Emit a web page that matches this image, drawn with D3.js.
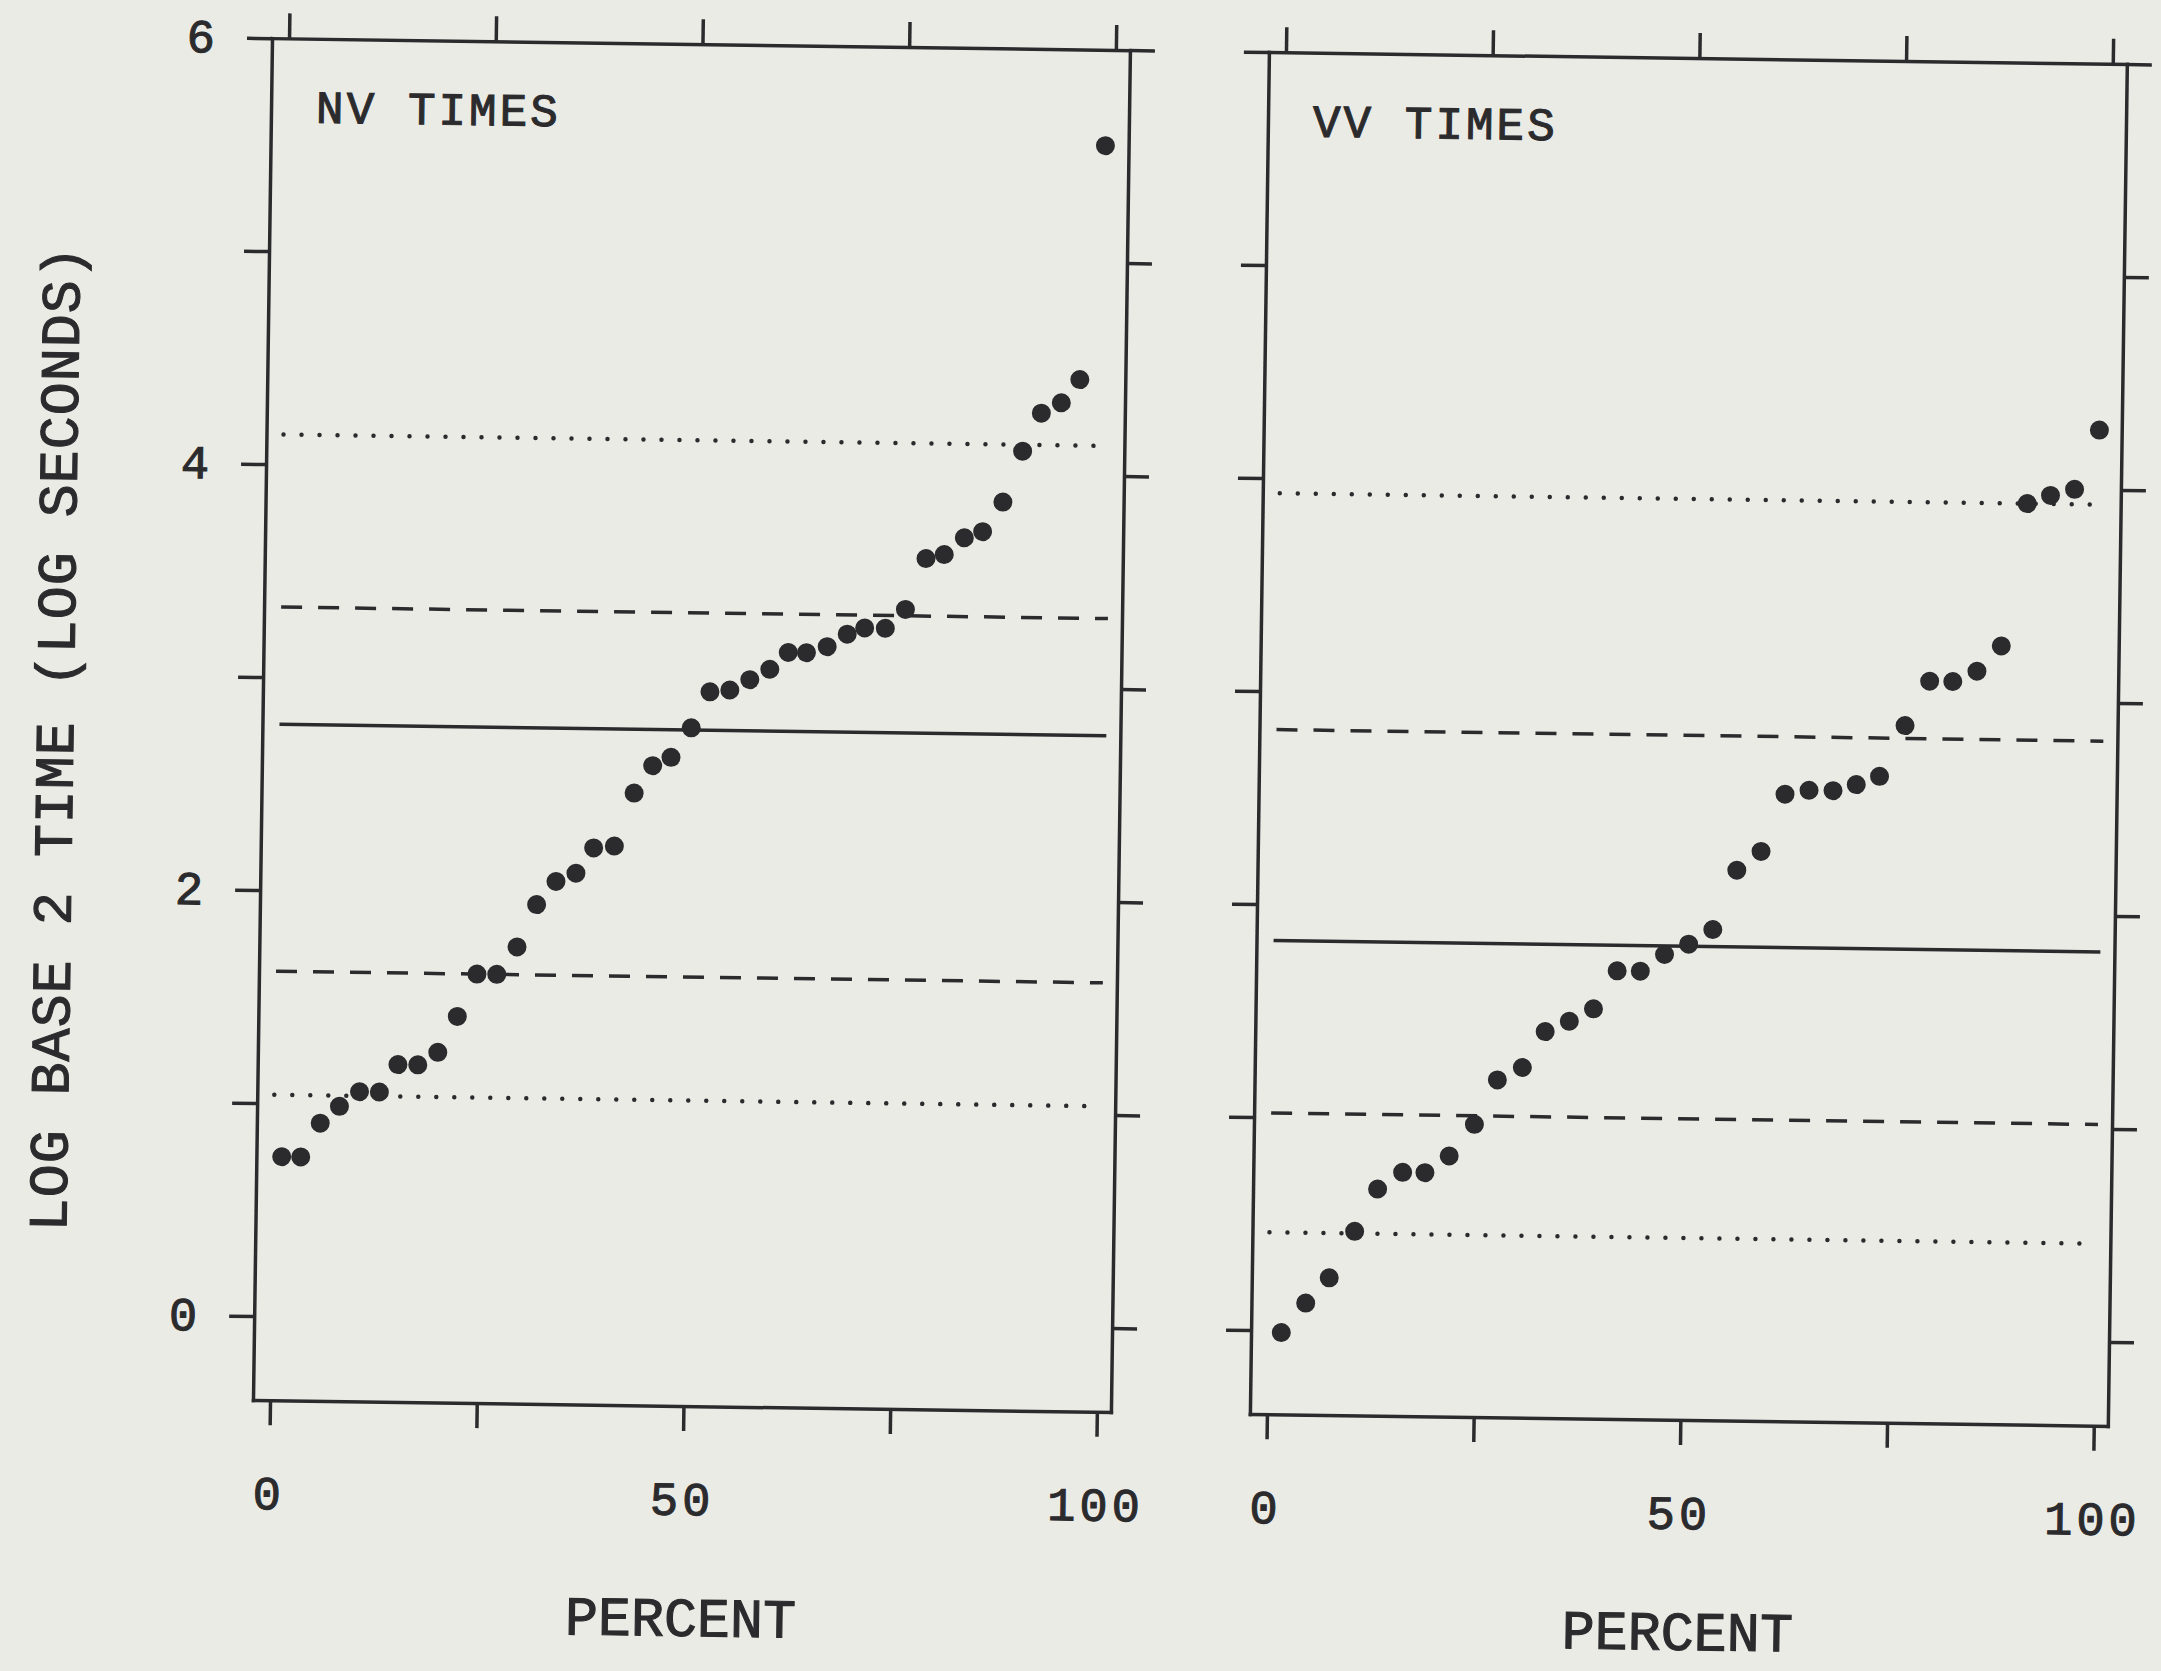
<!DOCTYPE html>
<html>
<head>
<meta charset="utf-8">
<script src="https://cdn.jsdelivr.net/npm/d3@7"></script>
<style>
  html, body { margin: 0; padding: 0; background: #ebebe6; }
  svg { display: block; }
</style>
</head>
<body>
<div id="chart"></div>
<script>
// Values (percentile position, log2 time)
const panelTitles = ["NV TIMES", "VV TIMES"];

const nvPercent = [1.0, 3.3, 5.6, 7.9, 10.3, 12.7, 14.9, 17.3, 19.7, 22.0, 24.3, 26.7, 29.1, 31.4, 33.7,
    36.1, 38.2, 40.7, 43.0, 45.2, 47.4, 49.8, 52.0, 54.4, 56.8, 59.2, 61.4, 63.6, 66.1, 68.5,
    70.6, 73.1, 75.5, 77.9, 80.1, 82.5, 84.7, 87.1, 89.4, 91.6, 94.0, 96.2, 98.9];
const nvLogTime = [0.75, 0.75, 0.91, 0.99, 1.06, 1.06, 1.19, 1.19, 1.25, 1.42, 1.62, 1.62, 1.75, 1.95, 2.06,
    2.10, 2.22, 2.23, 2.48, 2.61, 2.65, 2.79, 2.96, 2.97, 3.02, 3.07, 3.15, 3.15, 3.18, 3.24,
    3.27, 3.27, 3.36, 3.60, 3.62, 3.70, 3.73, 3.87, 4.11, 4.29, 4.34, 4.45, 5.55];

const vvPercent = [1.6, 4.5, 7.3, 10.3, 13.0, 16.0, 18.7, 21.6, 24.6, 27.3, 30.3, 33.0, 35.9, 38.8, 41.6,
    44.4, 47.3, 50.2, 53.1, 55.9, 58.8, 61.6, 64.5, 67.4, 70.2, 73.0, 76.0, 78.9, 81.7, 84.6,
    87.5, 90.4, 93.2, 96.1, 99.0];
const vvLogTime = [-0.01, 0.13, 0.25, 0.47, 0.67, 0.75, 0.75, 0.83, 0.98, 1.19, 1.25, 1.42, 1.47, 1.53, 1.71,
    1.71, 1.79, 1.84, 1.91, 2.19, 2.28, 2.55, 2.57, 2.57, 2.60, 2.64, 2.88, 3.09, 3.09, 3.14,
    3.26, 3.93, 3.97, 4.00, 4.28];

// horizontal reference lines, top to bottom
const lineStyles = ["dotted", "dashed", "solid", "dashed", "dotted"];
const nvLevels = [4.14, 3.33, 2.78, 1.62, 1.04];
const vvLevels = [3.93, 2.82, 1.83, 1.02, 0.46];

const yTicks = [0, 1, 2, 3, 4, 5, 6];
const yLabelTicks = [0, 2, 4, 6];
const xTicks = [0, 25, 50, 75, 100];
const xLabelTicks = [0, 50, 100];

// Layout
const width = 2161;
const height = 1671;
const ink = "#2b2b2e";
const font = "'Liberation Mono', 'DejaVu Sans Mono', monospace";
const frameTop = 38, frameBottom = 1400, frameWidth = 858;
const panelLefts = [253, 1250];
const tickLen = 25;

const svg = d3.select("#chart")
    .append("svg")
    .attr("width", width)
    .attr("height", height);

svg.append("rect")
    .attr("width", width)
    .attr("height", height)
    .attr("fill", "#ebebe6");

// the scan is slightly tilted
const g = svg.append("g")
    .attr("transform", `rotate(0.8, ${panelLefts[0]}, ${frameBottom})`);

const y = d3.scaleLinear()
    .domain([-0.394, 6])
    .range([frameBottom, frameTop]);

const panels = [
    { title: panelTitles[0], pct: nvPercent, val: nvLogTime, levels: nvLevels },
    { title: panelTitles[1], pct: vvPercent, val: vvLogTime, levels: vvLevels }
];

const dashFor = {
    solid: null,
    dashed: "21 16",
    dotted: "0 18"
};

// plotter-like text: thin outline to thicken the strokes
function styleText(sel, size) {
    sel.attr("font-family", font)
        .attr("font-size", size)
        .attr("fill", ink)
        .attr("stroke", ink)
        .attr("stroke-width", 1.1);
}

panels.forEach((p, i) => {
    const left = panelLefts[i];
    const x = d3.scaleLinear()
        .domain([-2.06, 101.7])
        .range([left, left + frameWidth]);

    const panel = g.append("g");

    // four axes make the frame, ticks pointing out
    const axes = [
        { ax: d3.axisLeft(y).tickValues(yTicks), t: `translate(${left},0)` },
        { ax: d3.axisRight(y).tickValues(yTicks), t: `translate(${left + frameWidth},0)` },
        { ax: d3.axisTop(x).tickValues(xTicks), t: `translate(0,${frameTop})` },
        { ax: d3.axisBottom(x).tickValues(xTicks), t: `translate(0,${frameBottom})` }
    ];
    axes.forEach(a => {
        const ag = panel.append("g")
            .attr("transform", a.t)
            .attr("color", ink)
            .call(a.ax.tickSize(tickLen).tickSizeOuter(0).tickFormat(""));
        ag.select(".domain").attr("stroke-width", 3.5).attr("stroke-linecap", "square");
        ag.selectAll(".tick line").attr("stroke-width", 3.5);
    });

    // reference lines
    panel.append("g")
        .selectAll("line")
        .data(p.levels)
        .enter().append("line")
        .attr("x1", x(0))
        .attr("x2", x(100))
        .attr("y1", d => y(d))
        .attr("y2", d => y(d))
        .attr("stroke", ink)
        .attr("stroke-width", (d, j) => lineStyles[j] === "dotted" ? 4.5 : 3.5)
        .attr("stroke-linecap", (d, j) => lineStyles[j] === "dotted" ? "round" : "butt")
        .attr("stroke-dasharray", (d, j) => dashFor[lineStyles[j]]);

    // points
    panel.append("g")
        .selectAll("circle")
        .data(p.pct.map((v, j) => ({ pct: v, val: p.val[j] })))
        .enter().append("circle")
        .attr("cx", d => x(d.pct))
        .attr("cy", d => y(d.val))
        .attr("r", 9.5)
        .attr("fill", ink);

    // panel title
    panel.append("text")
        .attr("x", left + 45)
        .attr("y", 122)
        .attr("letter-spacing", 3)
        .call(styleText, 46)
        .text(p.title);

    // x tick labels
    panel.append("g")
        .selectAll("text")
        .data(xLabelTicks)
        .enter().append("text")
        .attr("x", d => x(d))
        .attr("y", frameBottom + 109)
        .attr("text-anchor", "middle")
        .attr("letter-spacing", 4)
        .call(styleText, 47)
        .text(d => d);

    panel.append("text")
        .attr("x", x(50))
        .attr("y", 1630)
        .attr("text-anchor", "middle")
        .call(styleText, 55)
        .text("PERCENT");

    // only the left panel carries y labels
    if (i === 0) {
        panel.append("g")
            .selectAll("text")
            .data(yLabelTicks)
            .enter().append("text")
            .attr("x", left - 57)
            .attr("y", d => y(d) + 15)
            .attr("text-anchor", "end")
            .call(styleText, 47)
            .text(d => d);

        panel.append("text")
            .attr("transform", `translate(64,741) rotate(-90)`)
            .attr("text-anchor", "middle")
            .attr("letter-spacing", 1)
            .call(styleText, 55)
            .text("LOG BASE 2 TIME (LOG SECONDS)");
    }
});
</script>
</body>
</html>
